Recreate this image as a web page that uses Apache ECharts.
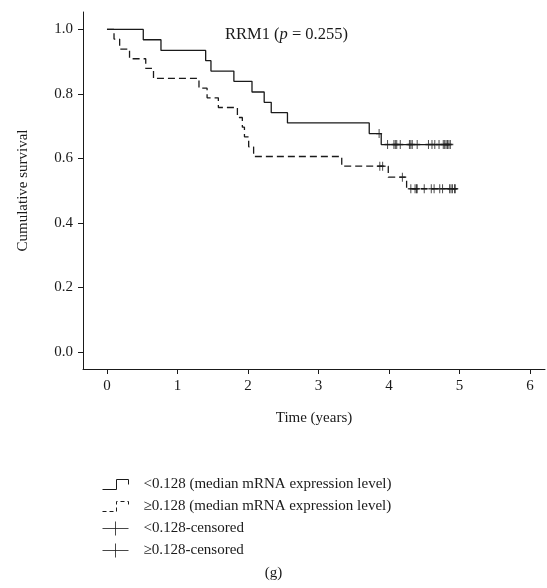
<!DOCTYPE html>
<html>
<head>
<meta charset="utf-8">
<script src="https://cdn.jsdelivr.net/npm/echarts@6/dist/echarts.min.js"></script>
<style>
html,body{margin:0;padding:0;background:#fff;}
#chart{width:547px;height:588px;}
</style>
</head>
<body>
<div id="chart"></div>
<script>
// Kaplan-Meier steps: [time (years), cumulative survival after step]
var lowSteps = [[0,1],[0.515,0.968],[0.766,0.935],[1.40,0.903],[1.475,0.871],[1.80,0.839],[2.057,0.806],[2.23,0.774],[2.33,0.742],[2.56,0.710],[3.72,0.677],[3.89,0.643],[4.87,0.643]];
var highSteps = [[0,1],[0.10,0.970],[0.18,0.939],[0.32,0.909],[0.55,0.879],[0.66,0.848],[1.305,0.818],[1.42,0.788],[1.58,0.758],[1.85,0.727],[1.92,0.697],[1.95,0.667],[2.01,0.636],[2.08,0.606],[3.33,0.576],[3.99,0.542],[4.25,0.506],[4.96,0.506]];
// censored observations
var lowCensored = [[3.86,0.677],[3.98,0.643],[4.07,0.643],[4.09,0.643],[4.11,0.643],[4.16,0.643],[4.29,0.643],[4.31,0.643],[4.33,0.643],[4.40,0.643],[4.56,0.643],[4.61,0.643],[4.65,0.643],[4.71,0.643],[4.77,0.643],[4.79,0.643],[4.81,0.643],[4.83,0.643],[4.85,0.643],[4.87,0.643]];
var highCensored = [[3.87,0.576],[3.91,0.576],[4.19,0.542],[4.31,0.506],[4.37,0.506],[4.39,0.506],[4.40,0.506],[4.50,0.506],[4.60,0.506],[4.64,0.506],[4.72,0.506],[4.76,0.506],[4.86,0.506],[4.88,0.506],[4.90,0.506],[4.93,0.506],[4.94,0.506]];
var xTicks = [0,1,2,3,4,5,6];
var yTicks = [0,0.2,0.4,0.6,0.8,1.0];
var seriesNames = ['<0.128 (median mRNA expression level)','\u22650.128 (median mRNA expression level)','<0.128-censored','\u22650.128-censored'];

var FONT = 'Liberation Serif';
var INK = '#1a1a1a';
var chart = echarts.init(document.getElementById('chart'), null, {renderer:'canvas'});
var censorSymbol = 'path://M0,0 L0,8 M-3,4 L3,4';
var stepIcon = 'path://M0,10 L14,10 L14,0 L26,0 L26,5';
var censorIcon = 'path://M0,7 L26,7 M13,0 L13,14';

chart.setOption({
  animation:false,
  backgroundColor:'#fff',
  title:{
    text:'{a|RRM1 (}{i|p}{a| = 0.255)}',
    left:220, top:21,
    textStyle:{fontWeight:'normal',rich:{
      a:{fontFamily:FONT,fontSize:16.5,color:INK,fontWeight:'normal'},
      i:{fontFamily:FONT,fontSize:16.5,color:INK,fontStyle:'italic',fontWeight:'normal'}
    }}
  },
  grid:{left:83,right:2,top:12,bottom:219,containLabel:false,outerBoundsMode:'none'},
  xAxis:{
    type:'value', min:-0.34, max:6.213,
    splitLine:{show:false},
    axisLine:{show:true,onZero:false,lineStyle:{color:INK,width:1}},
    axisTick:{show:true,customValues:xTicks,length:5,inside:false,lineStyle:{color:INK}},
    axisLabel:{customValues:xTicks,color:INK,fontFamily:FONT,fontSize:15,margin:10},
    name:'Time (years)', nameLocation:'middle', nameGap:42,
    nameTextStyle:{color:INK,fontFamily:FONT,fontSize:15}
  },
  yAxis:{
    type:'value', min:-0.0527, max:1.054,
    splitLine:{show:false},
    axisLine:{show:true,onZero:false,lineStyle:{color:INK,width:1}},
    axisTick:{show:true,customValues:yTicks,length:5,inside:false,lineStyle:{color:INK}},
    axisLabel:{customValues:yTicks,color:INK,fontFamily:FONT,fontSize:15,margin:10,
      formatter:function(v){return v.toFixed(1);}},
    name:'Cumulative survival', nameLocation:'middle', nameGap:52, nameRotate:90,
    nameTextStyle:{color:INK,fontFamily:FONT,fontSize:15}
  },
  legend:{
    orient:'vertical', left:97, top:472, itemGap:7,
    itemWidth:26, itemHeight:14,
    selectedMode:false,
    textStyle:{fontFamily:FONT,fontSize:15,color:INK,padding:[0,0,0,10]},
    itemStyle:{color:'rgba(0,0,0,0)',borderColor:INK,borderWidth:1},
    data:[
      {name:seriesNames[0],icon:stepIcon,itemStyle:{color:'rgba(0,0,0,0)',borderColor:INK,borderWidth:1}},
      {name:seriesNames[1],icon:stepIcon,itemStyle:{color:'rgba(0,0,0,0)',borderColor:INK,borderWidth:1,borderType:[4,3]}},
      {name:seriesNames[2],icon:censorIcon,itemStyle:{color:'rgba(0,0,0,0)',borderColor:INK,borderWidth:1}},
      {name:seriesNames[3],icon:censorIcon,itemStyle:{color:'rgba(0,0,0,0)',borderColor:INK,borderWidth:1}}
    ]
  },
  graphic:[{
    type:'text', left:'center', top:566,
    style:{text:'(g)',font:'15px "Liberation Serif"',fill:INK}
  }],
  series:[
    {name:seriesNames[0],type:'line',step:'end',data:lowSteps,showSymbol:false,symbol:'none',
      lineStyle:{color:INK,width:1.3,type:'solid'},itemStyle:{color:INK},silent:true},
    {name:seriesNames[1],type:'line',step:'end',data:highSteps,showSymbol:false,symbol:'none',
      lineStyle:{color:INK,width:1.3,type:[7,4]},itemStyle:{color:INK},silent:true},
    {name:seriesNames[2],type:'scatter',data:lowCensored,symbol:censorSymbol,symbolSize:[6,9],
      itemStyle:{color:'rgba(0,0,0,0)',borderColor:INK,borderWidth:1.2},silent:true},
    {name:seriesNames[3],type:'scatter',data:highCensored,symbol:censorSymbol,symbolSize:[6,9],
      itemStyle:{color:'rgba(0,0,0,0)',borderColor:INK,borderWidth:1.2},silent:true}
  ]
});
</script>
</body>
</html>
